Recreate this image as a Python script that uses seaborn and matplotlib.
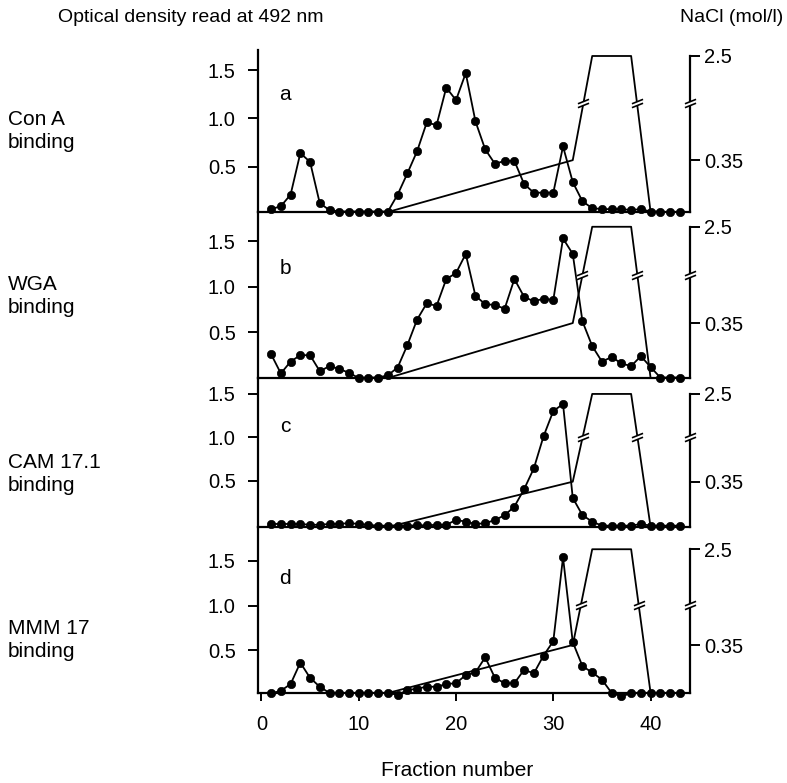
import numpy as np
import pandas as pd
import matplotlib
matplotlib.use("Agg")
import matplotlib.pyplot as plt
from matplotlib.path import Path
import seaborn as sns

sns.set_style("ticks")
plt.rcParams["font.family"] = ["Liberation Sans", "DejaVu Sans"]
plt.rcParams["font.size"] = 14.5
plt.rcParams["text.color"] = "black"
plt.rcParams["xtick.color"] = "black"
plt.rcParams["ytick.color"] = "black"
plt.rcParams["axes.edgecolor"] = "black"

# fraction numbers and optical density (492 nm) per lectin / antibody
fractions = list(range(1, 44))
od_con_a = [0.06, 0.09, 0.21, 0.64, 0.55, 0.12, 0.05, 0.035, 0.035, 0.035, 0.035, 0.035, 0.035,
            0.21, 0.43, 0.66, 0.96, 0.93, 1.32, 1.19, 1.47, 0.97, 0.68,
            0.53, 0.56, 0.56, 0.32, 0.23, 0.23, 0.23, 0.71, 0.34, 0.14,
            0.07, 0.06, 0.06, 0.06, 0.05, 0.06, 0.035, 0.035, 0.025, 0.035]
od_wga = [0.26, 0.05, 0.18, 0.25, 0.25, 0.075, 0.13, 0.10, 0.057, 0.0, 0.005, 0.005, 0.03,
          0.115, 0.36, 0.64, 0.82, 0.79, 1.085, 1.15, 1.36, 0.90, 0.81,
          0.80, 0.76, 1.085, 0.89, 0.84, 0.87, 0.855, 1.53, 1.36, 0.62,
          0.35, 0.18, 0.23, 0.16, 0.13, 0.24, 0.12, 0.005, 0.005, 0.005]
od_cam = [0.0, 0.0, 0.0, 0.0, -0.01, -0.01, 0.0, 0.0, 0.01, 0.0, -0.01, -0.02, -0.02,
          -0.02, -0.02, -0.015, -0.015, -0.01, -0.01, 0.046, 0.027, 0.0, 0.008,
          0.046, 0.10, 0.20, 0.40, 0.64, 1.01, 1.30, 1.38, 0.30, 0.10,
          0.027, -0.02, -0.02, -0.02, -0.02, 0.0, -0.02, -0.02, -0.02, -0.02]
od_mmm = [0.015, 0.045, 0.12, 0.36, 0.19, 0.09, 0.02, 0.02, 0.02, 0.02, 0.02, 0.02, 0.02,
          0.0, 0.05, 0.07, 0.09, 0.09, 0.12, 0.13, 0.22, 0.25, 0.42,
          0.19, 0.13, 0.13, 0.28, 0.24, 0.44, 0.60, 1.54, 0.59, 0.32,
          0.25, 0.17, 0.02, -0.015, 0.015, 0.02, 0.02, 0.02, 0.02, 0.02]

# NaCl elution gradient
nacl_fraction = [13, 32, 34, 38, 40]
nacl_molar = [0, 0.35, 2.5, 2.5, 0]

panel_letters = ["a", "b", "c", "d"]
panel_names = ["Con A\nbinding", "WGA\nbinding", "CAM 17.1\nbinding", "MMM 17\nbinding"]
od_series = [od_con_a, od_wga, od_cam, od_mmm]

df = pd.DataFrame({
    "fraction": fractions * 4,
    "od": sum(od_series, []),
    "panel": np.repeat(panel_letters, len(fractions)),
})

# layout in pixels (top, bottom) of each panel, y limits, right-axis positions
W, H = 787, 783
panel_px = [(50, 212), (212, 378), (378, 527), (527, 693)]
ylims = [(0.03, 1.71), (0.0, 1.82), (-0.035, 1.68), (0.02, 1.88)]
nacl_pos = [(0.32, 0.963), (0.331, 0.911), (0.304, 0.893), (0.289, 0.866)]
break_pos = [0.67, 0.62, 0.605, 0.53]
label_y = [131, 296, 474, 640]
letter_y = [95, 268, 426, 578]

# axis-break marker: two slanted strokes with a white gap between them
brk_strokes = Path([(-1, -0.75), (1, 0.05), (-1, -0.05), (1, 0.75)],
                   [Path.MOVETO, Path.LINETO, Path.MOVETO, Path.LINETO])
brk_gap = Path([(-1, -0.75), (1, 0.05), (1, 0.75), (-1, -0.05), (-1, -0.75)])


def draw_break(ax, x, y, transform):
    ax.plot(x, y, transform=transform, linestyle="none", marker=brk_gap, markersize=8,
            markerfacecolor="white", markeredgewidth=0, clip_on=False, zorder=6)
    ax.plot(x, y, transform=transform, linestyle="none", marker=brk_strokes, markersize=8,
            markerfacecolor="none", markeredgecolor="black", markeredgewidth=1.2,
            clip_on=False, zorder=7)


fig = plt.figure(figsize=(W / 100, H / 100), dpi=100)

for i, letter in enumerate(panel_letters):
    top, bottom = panel_px[i]
    ax = fig.add_axes([258 / W, 1 - bottom / H, (690 - 258) / W, (bottom - top) / H])
    ax.patch.set_visible(False)

    sns.lineplot(data=df[df["panel"] == letter], x="fraction", y="od", ax=ax,
                 color="black", linewidth=1.3, marker="o", markersize=6,
                 markeredgecolor="black", markeredgewidth=0.5, estimator=None, sort=False)
    for line in ax.lines:
        line.set_clip_on(False)

    ax.set_xlim(-0.35, 44.05)
    ax.set_ylim(*ylims[i])
    ax.set_yticks([0.5, 1.0, 1.5])
    ax.set_yticklabels(["0.5", "1.0", "1.5"])
    ax.set_xlabel("")
    ax.set_ylabel("")
    ax.tick_params(axis="y", direction="out", length=7, width=1.4, pad=9)
    for s in ["top", "right"]:
        ax.spines[s].set_visible(False)
    for s in ["left", "bottom"]:
        ax.spines[s].set_linewidth(1.6)

    if i == 3:
        ax.set_xticks([0, 10, 20, 30, 40])
        ax.tick_params(axis="x", direction="out", length=6, width=1.4, pad=10)
    else:
        ax.set_xticks([])

    # NaCl axis on the right, with a broken scale between 0.35 and 2.5
    f035, f25 = nacl_pos[i]
    xs = [0, 0.35, 2.5, 3.0]
    us = [0, f035, f25, 1.0]
    ax2 = ax.twinx()
    ax2.set_yscale("function", functions=(lambda v, us=us: np.interp(v, xs, us),
                                          lambda u, us=us: np.interp(u, us, xs)))
    sns.lineplot(x=nacl_fraction, y=nacl_molar, ax=ax2, color="black", linewidth=1.3,
                 estimator=None, sort=False)
    ax2.set_ylim(0, 3.0)
    ax2.set_xlim(-0.35, 44.05)
    ax2.set_yticks([0.35, 2.5])
    ax2.set_yticklabels(["0.35", "2.5"])
    ax2.yaxis.set_minor_locator(matplotlib.ticker.NullLocator())
    ax2.tick_params(axis="y", direction="out", length=7, width=1.4, pad=3)
    for s in ["top", "left", "bottom"]:
        ax2.spines[s].set_visible(False)
    ax2.spines["right"].set_linewidth(1.6)
    ax2.spines["right"].set_bounds(0, 2.5)
    ax2.set_xlabel("")
    ax2.set_ylabel("")

    ub = break_pos[i]
    x_up = np.interp(ub, [f035, f25], nacl_fraction[1:3])
    x_down = np.interp(ub, [0, f25], [nacl_fraction[4], nacl_fraction[3]])
    tr = ax2.get_xaxis_transform()
    draw_break(ax2, [x_up, x_down], [ub, ub], tr)
    draw_break(ax2, [1.0], [ub], ax2.transAxes)

    fig.text(8 / W, 1 - label_y[i] / H, panel_names[i], ha="left", va="center",
             fontsize=15, linespacing=1.3)
    fig.text(285 / W, 1 - letter_y[i] / H, letter, ha="center", va="center", fontsize=15)

fig.text(58 / W, 1 - 18 / H, "Optical density read at 492 nm", ha="left", va="center",
         fontsize=14)
fig.text(783 / W, 1 - 18 / H, "NaCl (mol/l)", ha="right", va="center", fontsize=14)
fig.text(457 / W, 1 - 771 / H, "Fraction number", ha="center", va="center", fontsize=15)

fig.savefig("out.png", dpi=100)
